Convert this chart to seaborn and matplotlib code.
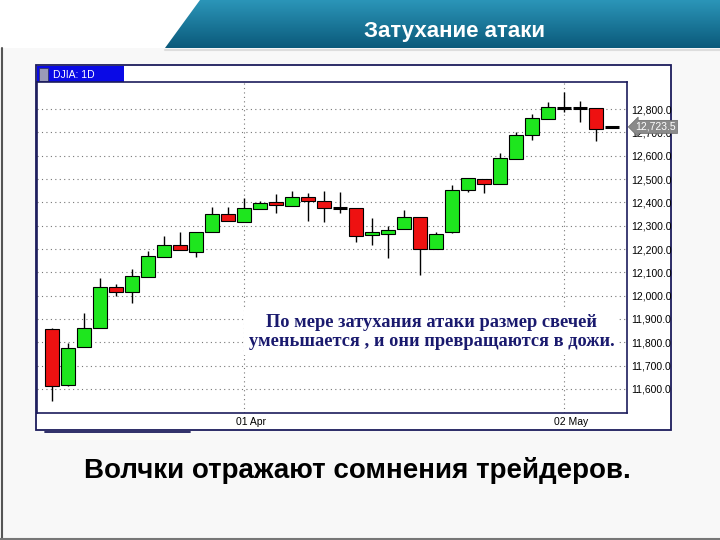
import numpy as np
import pandas as pd
import seaborn as sns
import matplotlib
matplotlib.use("Agg")
import matplotlib.pyplot as plt
from matplotlib.patches import Rectangle, Polygon
from matplotlib.colors import LinearSegmentedColormap
from matplotlib.transforms import ScaledTranslation

# DJIA daily candles (16 Mar .. 05 May)
day = list(range(36))
opens = [11857, 11617, 11780, 11861, 12037, 12016, 12080, 12166, 12217, 12187,
         12273, 12350, 12316, 12371, 12401, 12384, 12423, 12406, 12376, 12376,
         12260, 12264, 12286, 12337, 12200, 12273, 12453, 12500, 12479, 12586,
         12689, 12757, 12806, 12803, 12804, 12723]
highs = [11860, 11797, 11926, 12076, 12050, 12114, 12191, 12256, 12273, 12273,
         12380, 12380, 12419, 12406, 12436, 12449, 12440, 12449, 12444, 12376,
         12333, 12299, 12367, 12337, 12273, 12474, 12504, 12500, 12611, 12701,
         12779, 12830, 12873, 12834, 12804, 12723]
lows = [11549, 11612, 11780, 11861, 11998, 11968, 12080, 12166, 12196, 12166,
        12273, 12320, 12316, 12371, 12354, 12384, 12320, 12316, 12354, 12230,
        12217, 12161, 12286, 12089, 12200, 12270, 12444, 12440, 12479, 12586,
        12667, 12757, 12787, 12744, 12663, 12723]
closes = [11613, 11776, 11861, 12037, 12016, 12084, 12170, 12217, 12196, 12273,
          12350, 12320, 12376, 12397, 12389, 12423, 12406, 12376, 12376, 12256,
          12273, 12281, 12337, 12200, 12264, 12453, 12504, 12479, 12590, 12689,
          12761, 12809, 12804, 12803, 12714, 12723]
date_ticks = [12, 32]
date_labels = ["01 Apr", "02 May"]
price_ticks = [11600, 11700, 11800, 11900, 12000, 12100, 12200,
               12300, 12400, 12500, 12600, 12700, 12800]
last_price = 12723.5

df = pd.DataFrame({"day": day, "open": opens, "high": highs, "low": lows, "close": closes})
df["bottom"] = df[["open", "close"]].min(axis=1)
df["height"] = (df["close"] - df["open"]).abs()
df["doji"] = df["height"] < 6

sns.set_theme(style="white")
plt.rcParams["font.family"] = ["Liberation Sans", "DejaVu Sans"]

fig = plt.figure(figsize=(7.2, 5.4), dpi=100, facecolor="#f8f8f8")

# slide background in pixel coordinates
bg = fig.add_axes([0, 0, 1, 1])
bg.axis("off")
bg.add_patch(Polygon([(0, 0), (200, 0), (165, 48), (0, 48)], fc="white", ec="none"))
band = Polygon([(200, 0), (720, 0), (720, 48), (165, 48)], fc="none", ec="none")
bg.add_patch(band)
grad = np.linspace(0, 1, 64).reshape(-1, 1)
cm = LinearSegmentedColormap.from_list("hdr", ["#2b95b8", "#0b5a7b"])
im = bg.imshow(grad, extent=[0, 720, 48, 0], cmap=cm, aspect="auto", zorder=1)
im.set_clip_path(band)
bg.plot([165, 720], [49.5, 49.5], color="#dddddd", lw=1.5)
bg.text(455, 31, "Затухание атаки", color="white", fontsize=16, fontweight="bold",
        ha="center", va="center")

# chart frame
bg.add_patch(Rectangle((36, 65), 635, 365, fc="white", ec="#1c1c5c", lw=1.3))
bg.add_patch(Rectangle((37, 66), 87, 16, fc="#0a0ae6", ec="none"))
bg.add_patch(Rectangle((38.5, 67.5), 9, 13, fc="#9a9ab8", ec="#333366", lw=0.6))
bg.text(53, 74.5, "DJIA: 1D", color="white", fontsize=7.5, va="center")
bg.plot([45, 190], [432, 432], color="#1c1c5c", lw=1.3)

bg.text(357, 470, "Волчки отражают сомнения трейдеров.", fontsize=20,
        fontweight="bold", color="black", ha="center", va="center")

# slide border
bg.plot([1.5, 1.5], [48, 540], color="#555555", lw=1.5)
bg.plot([0, 720], [538.5, 538.5], color="#777777", lw=1.5)
bg.set_xlim(0, 720)
bg.set_ylim(540, 0)

# price panel
ax = fig.add_axes([37 / 720, 1 - 413 / 540, 590 / 720, 331 / 540])
ax.set_facecolor("white")
ax.set_axisbelow(True)

ax.vlines(df["day"], df["low"], df["high"], color="black", lw=1, zorder=2)
body_colors = np.where(df["close"] > df["open"], "#1ee61e", "#ee1111")
solid = df[~df["doji"]]
ax.bar(solid["day"], solid["height"], bottom=solid["bottom"], width=0.85,
       color=body_colors[~df["doji"].to_numpy()], edgecolor="black", lw=0.8, zorder=3)
flat = df[df["doji"]]
ax.hlines(flat["close"], flat["day"] - 0.43, flat["day"] + 0.43,
          color="black", lw=2.2, zorder=4)

ax.set_xlim(-0.94, 35.94)
ax.set_ylim(11497, 12916)
ax.set_yticks(price_ticks)
ax.set_yticklabels([f"{v:,.1f}" for v in price_ticks])
ax.set_xticks(date_ticks)
ax.set_xticklabels(date_labels)
ax.yaxis.tick_right()
ax.tick_params(axis="y", length=0, pad=3, labelsize=7.5, labelcolor="black")
ax.tick_params(axis="x", length=0, pad=3, labelsize=7.5, labelcolor="black")
for lab in ax.get_xticklabels():
    lab.set_transform(lab.get_transform() + ScaledTranslation(0.07, 0, fig.dpi_scale_trans))
ax.grid(True, color="#777777", linestyle=(0, (1, 3)), lw=0.8)
for sp in ax.spines.values():
    sp.set_color("#1c1c5c")
    sp.set_linewidth(1.2)

ax.annotate(f"{last_price:,.1f}", xy=(1, last_price), xycoords=("axes fraction", "data"),
            xytext=(6, 0), textcoords="offset points", ha="left", va="center",
            fontsize=7.5, color="white", annotation_clip=False, zorder=6,
            bbox=dict(boxstyle="larrow,pad=0.15", fc="#8a8a8a", ec="#6a6a6a", lw=0.5))

ax.text(0.669, 0.245,
        "По мере затухания атаки размер свечей\nуменьшается , и они превращаются в дожи.",
        transform=ax.transAxes, ha="center", va="center", fontsize=13.2,
        family=["Liberation Serif", "DejaVu Serif"], fontweight="bold",
        color="#1a1a6e", linespacing=1.2, zorder=5,
        bbox=dict(boxstyle="square,pad=0.25", fc="white", ec="none"))

fig.savefig("out.png", dpi=100, facecolor=fig.get_facecolor())
